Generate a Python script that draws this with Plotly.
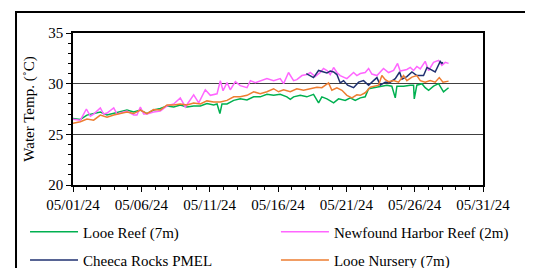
import datetime as dt
import plotly.graph_objects as go

START = dt.datetime(2024, 5, 1)

# days since 05/01/24 and water temperature (°C)
looe_reef_days = [0.0, 0.54, 1.02, 1.51, 2.0, 2.49, 2.98, 3.46, 3.95, 4.44, 4.93, 5.41, 5.9, 6.39, 6.88, 7.37, 7.85, 8.34, 8.83, 9.32, 9.8, 10.29, 10.54, 10.75, 10.9, 11.27, 11.76, 12.24, 12.73, 13.22,
                  13.70, 14.19, 14.68, 15.16, 15.65, 15.9, 16.14, 16.63, 17.11, 17.6, 17.97, 18.21, 18.58, 19.07, 19.43, 19.92, 20.29, 20.65, 21.02, 21.38, 21.63, 21.99, 22.48, 22.97, 23.33, 23.58, 23.7, 24.19, 24.68, 24.92, 24.97, 25.16, 25.53, 25.77, 26.02, 26.38, 26.75, 27.11, 27.48]
looe_reef_vals = [26.57, 26.47, 26.9, 27.05, 27.2, 26.9, 27.05, 27.2, 27.4, 27.2, 27.4, 27.05, 27.4, 27.55, 27.8, 27.7, 27.9, 27.7, 27.8, 27.8, 28.05, 27.9, 28.0, 27.05, 28.0, 28.0, 28.35, 28.5, 28.4, 28.7,
                  28.7, 28.95, 28.85, 28.95, 28.7, 28.45, 28.7, 28.85, 28.7, 28.95, 28.1, 28.7, 28.5, 28.1, 28.5, 28.35, 28.6, 28.35, 28.6, 28.7, 29.5, 29.6, 29.75, 29.85, 29.75, 28.6, 29.75, 29.75, 29.85, 29.85, 28.5, 29.85, 30.0, 29.6, 29.35, 29.75, 30.0, 29.2, 29.6]

newfound_days = [0.0, 0.54, 0.98, 1.27, 1.51, 2.0, 2.24, 2.49, 2.98, 3.22, 3.71, 3.95, 4.44, 4.68, 4.93, 5.17, 5.41, 5.9, 6.39, 6.88, 7.37, 7.85, 8.22, 8.83, 9.2, 9.68, 10.05, 10.54, 10.78, 10.98, 11.27, 11.51, 11.88, 12.24, 12.73, 12.98, 13.34,
                 13.70, 14.19, 14.68, 15.16, 15.41, 15.77, 16.14, 16.38, 16.75, 17.11, 17.36, 17.72, 18.09, 18.33, 18.58, 18.82, 19.07, 19.31, 19.55, 20.04, 20.53, 20.77, 21.02, 21.38, 21.63, 21.87, 22.24, 22.72, 23.09, 23.46, 23.75, 23.94, 24.43, 24.68, 24.92, 25.16, 25.41, 25.77, 26.02, 26.38, 26.75, 26.99, 27.24, 27.48]
newfound_vals = [26.5, 26.4, 27.5, 26.8, 27.0, 27.6, 27.0, 27.1, 27.6, 27.0, 27.2, 27.3, 26.9, 26.9, 27.7, 27.0, 27.0, 27.2, 27.3, 27.8, 28.0, 28.6, 27.7, 28.9, 28.1, 29.4, 28.85, 29.0, 30.3, 29.3, 30.1, 29.4, 30.2, 29.8, 29.6, 30.3, 30.1,
                 30.3, 30.5, 30.3, 30.5, 30.0, 31.1, 30.3, 30.4, 30.8, 30.9, 31.1, 30.7, 31.1, 31.5, 31.3, 30.9, 31.6, 31.1, 30.8, 30.5, 31.1, 30.8, 31.0, 31.1, 31.5, 30.95, 30.8, 31.5, 31.1, 31.3, 32.0, 31.25, 31.4, 31.6, 31.3, 31.7, 31.45, 32.2, 31.3, 32.1, 32.3, 31.8, 32.1, 32.0]

cheeca_days = [17.07, 17.36, 17.6, 17.97, 18.33, 18.58, 18.82, 19.07, 19.31, 19.55, 19.8, 20.09, 20.53, 20.9, 21.26, 21.63, 21.99, 22.24, 22.48, 22.85, 23.21, 23.58, 23.9, 24.07, 24.43, 24.8, 25.16, 25.65, 25.9, 26.14, 26.5, 26.87, 26.99, 27.07]
cheeca_vals = [31.0, 30.8, 30.6, 31.3, 31.15, 31.05, 31.25, 31.15, 30.9, 30.07, 30.3, 29.85, 29.6, 30.15, 30.3, 29.85, 30.3, 30.6, 29.85, 30.15, 30.15, 30.5, 31.15, 30.45, 30.7, 31.15, 30.8, 30.8, 31.6, 31.45, 31.15, 32.2, 32.0, 32.1]

nursery_days = [0.0, 0.54, 1.02, 1.51, 2.0, 2.49, 2.98, 3.46, 3.95, 4.44, 4.93, 5.41, 5.9, 6.39, 6.88, 7.37, 7.85, 8.34, 8.83, 9.32, 9.8, 10.29, 10.78, 11.27, 11.76, 12.24, 12.73, 13.22,
                13.70, 14.19, 14.68, 15.04, 15.41, 15.9, 16.38, 16.87, 17.36, 17.85, 18.21, 18.7, 18.94, 19.31, 19.68, 20.04, 20.41, 20.77, 21.02, 21.38, 21.75, 22.11, 22.36, 22.6, 22.85, 23.09, 23.46, 23.82, 24.19, 24.43, 24.8, 25.16, 25.41, 25.77, 26.14, 26.5, 26.8, 27.07, 27.48]
nursery_vals = [26.08, 26.25, 26.5, 26.4, 26.9, 26.7, 26.9, 27.05, 27.2, 27.05, 27.4, 27.05, 27.45, 27.4, 27.9, 27.9, 28.0, 27.9, 28.1, 28.0, 28.3, 28.2, 28.2, 28.35, 28.7, 28.7, 28.85, 29.2,
                29.0, 29.2, 29.5, 29.2, 29.4, 29.2, 29.5, 29.35, 29.5, 29.65, 29.6, 30.07, 29.35, 29.6, 29.35, 28.85, 28.6, 28.9, 28.85, 29.1, 29.65, 29.8, 29.85, 30.8, 30.4, 30.2, 30.3, 30.15, 30.8, 30.3, 30.65, 30.8, 30.3, 30.15, 30.3, 30.15, 30.6, 30.15, 30.25]

series = [
    ("Looe Reef (7m)", looe_reef_days, looe_reef_vals, "#00B050"),
    ("Newfound Harbor Reef (2m)", newfound_days, newfound_vals, "#FF66FF"),
    ("Cheeca Rocks PMEL", cheeca_days, cheeca_vals, "#1F3070"),
    ("Looe Nursery (7m)", nursery_days, nursery_vals, "#ED7D31"),
]

FONT = "Liberation Serif"

fig = go.Figure()
legend_names = ["legend", "legend2", "legend3", "legend4"]
for (name, days, vals, color), leg in zip(series, legend_names):
    fig.add_trace(go.Scatter(
        x=[START + dt.timedelta(days=d) for d in days], y=vals, name=name,
        mode="lines", line=dict(color=color, width=1.5), legend=leg, showlegend=True))

# legend slots: (x paper, y paper) for a 2x2 grid below the plot
leg_pos = [(-0.117, -0.31), (0.495, -0.31), (-0.117, -0.495), (0.495, -0.495)]
leg_layout = {}
for leg, (lx, ly) in zip(legend_names, leg_pos):
    leg_layout[leg] = dict(x=lx, xanchor="left", y=ly, yanchor="middle", visible=True,
                           font=dict(family=FONT, size=15), bgcolor="rgba(0,0,0,0)",
                           itemwidth=48)

fig.update_layout(
    width=525, height=260,
    margin=dict(l=65, r=50, t=25, b=83, autoexpand=False),
    paper_bgcolor="white", plot_bgcolor="white",
    showlegend=True,
    font=dict(family=FONT, size=15, color="black"),
    shapes=[dict(type="rect", xref="paper", yref="paper", x0=-0.139, x1=1.1085, y0=-0.6, y1=1.138,
                 line=dict(color="black", width=2), layer="below")],
    **leg_layout,
)

fig.update_xaxes(
    type="date", range=["2024-05-01", "2024-05-31"],
    dtick=5 * 86400000, tick0="2024-05-01", tickformat="%m/%d/%y",
    showgrid=False, showline=True, linecolor="black", linewidth=1.5, mirror=True,
    ticks="outside", ticklen=5, tickcolor="black", tickwidth=1,
    minor=dict(dtick=86400000, ticks="outside", ticklen=3, tickcolor="black", showgrid=False),
    tickfont=dict(family=FONT, size=15), automargin=False,
)
fig.update_yaxes(
    range=[20, 35], dtick=5, tick0=20,
    showgrid=True, gridcolor="#404040", gridwidth=1.2,
    showline=True, linecolor="black", linewidth=1.5, mirror=True,
    ticks="outside", ticklen=5, tickcolor="black", tickwidth=1,
    minor=dict(dtick=1, ticks="outside", ticklen=3, tickcolor="black", showgrid=False),
    zeroline=False, automargin=False,
    title=dict(text="Water Temp. (˚C)", font=dict(family=FONT, size=15), standoff=10),
    tickfont=dict(family=FONT, size=15),
)

fig.write_html("out.html")
